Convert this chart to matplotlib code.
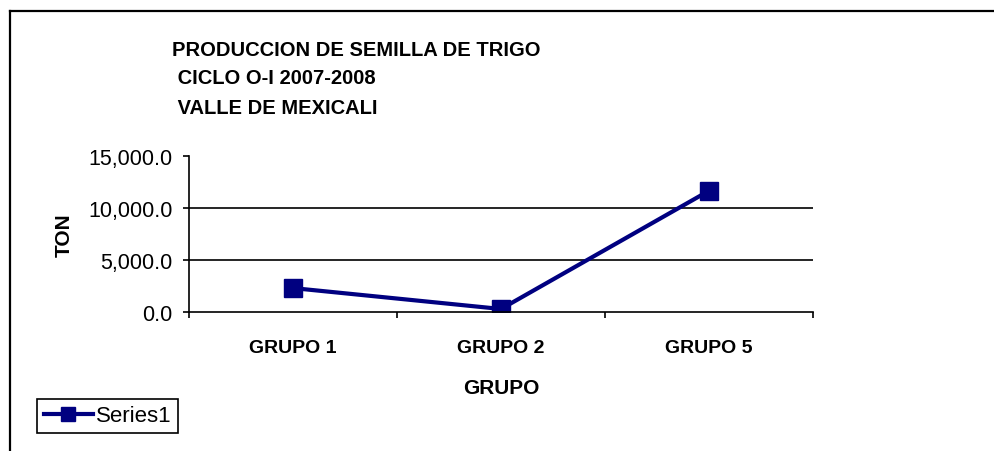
import numpy as np
import matplotlib
matplotlib.use('Agg')
import matplotlib.pyplot as plt
from matplotlib.lines import Line2D

plt.rcParams['font.family'] = ['Liberation Sans', 'DejaVu Sans']

grupos = ['GRUPO 1', 'GRUPO 2', 'GRUPO 5']
toneladas = [2300.0, 290.0, 11650.0]
yticks = [0.0, 5000.0, 10000.0, 15000.0]
titulo = ['PRODUCCION DE SEMILLA DE TRIGO', ' CICLO O-I 2007-2008', ' VALLE DE MEXICALI']

fig = plt.figure(figsize=(9.95, 4.52), dpi=100)
ax = fig.add_axes([0.190, 0.3075, 0.627, 0.3452])

x = np.arange(len(grupos))
ax.plot(x, toneladas, color='#000080', lw=3, marker='s', markersize=12.5,
        label='Series1')

ax.set_xlim(-0.5, len(grupos) - 0.5)
ax.set_ylim(0, 15000)
ax.set_yticks(yticks)
ax.set_yticklabels(['{:,.1f}'.format(v) for v in yticks], fontsize=15.5)
for v in yticks[1:-1]:
    ax.axhline(v, color='black', lw=1.2, zorder=0)

ax.set_xticks(x)
ax.set_xticklabels(grupos, fontsize=14, fontweight='bold')
ax.set_xticks(np.arange(len(grupos) + 1) - 0.5, minor=True)
ax.tick_params(axis='x', which='major', length=0, pad=19.5)
ax.tick_params(axis='x', which='minor', length=4, width=1.2, direction='out')
ax.tick_params(axis='y', length=4, width=1.2, direction='out', pad=8)

for s in ['top', 'right']:
    ax.spines[s].set_visible(False)
for s in ['left', 'bottom']:
    ax.spines[s].set_linewidth(1.2)

ax.set_ylabel('TON', fontsize=15, fontweight='bold', labelpad=10)
ax.set_xlabel('GRUPO', fontsize=15, fontweight='bold', labelpad=16)

for i, line in enumerate(titulo):
    fig.text(172 / 995, 1 - (50 + 29 * i) / 452, line, fontsize=14.5,
             fontweight='bold', va='center', ha='left')

leg = fig.legend(loc='lower left', bbox_to_anchor=(37 / 995, 1 - 434 / 452),
                 fontsize=16, fancybox=False, edgecolor='black',
                 framealpha=1, handlelength=2.2, borderpad=0.3,
                 handletextpad=0.15, borderaxespad=0, markerscale=0.85)
leg.get_frame().set_linewidth(1.2)

# border of chart area
fig.add_artist(Line2D([10 / 995, 1.0], [1 - 12 / 452, 1 - 12 / 452],
                      color='black', lw=1.6))
fig.add_artist(Line2D([10 / 995, 10 / 995], [1 - 12 / 452, 0.0],
                      color='black', lw=1.6))

fig.savefig('out.png', dpi=100)
